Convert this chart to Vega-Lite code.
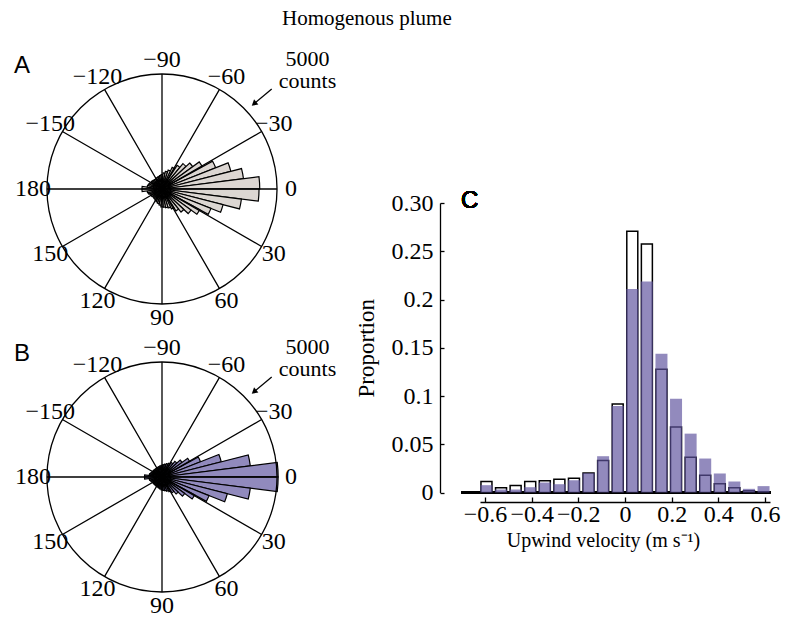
{
  "$schema": "https://vega.github.io/schema/vega-lite/v6.json",
  "padding": {"left": 0, "top": 7, "right": 0, "bottom": 0},
  "title": {"text": "Homogenous plume", "font": "Liberation Serif", "fontSize": 21, "fontWeight": "normal", "color": "black", "anchor": "start", "frame": "group", "dx": 282, "offset": 19},
  "spacing": 18,
  "datasets": {
    "roseA": [
      {"a0":-180,"a1":-172.8,"count":870},{"a0":-172.8,"a1":-165.6,"count":650},{"a0":-165.6,"a1":-158.4,"count":610},{"a0":-158.4,"a1":-151.2,"count":590},{"a0":-151.2,"a1":-144,"count":560},{"a0":-144,"a1":-136.8,"count":540},{"a0":-136.8,"a1":-129.6,"count":520},{"a0":-129.6,"a1":-122.4,"count":520},{"a0":-122.4,"a1":-115.2,"count":520},{"a0":-115.2,"a1":-108,"count":540},{"a0":-108,"a1":-100.8,"count":560},{"a0":-100.8,"a1":-93.6,"count":590},{"a0":-93.6,"a1":-86.4,"count":630},{"a0":-86.4,"a1":-79.2,"count":700},{"a0":-79.2,"a1":-72,"count":780},{"a0":-72,"a1":-64.8,"count":870},{"a0":-64.8,"a1":-57.6,"count":1040},{"a0":-57.6,"a1":-50.4,"count":1220},{"a0":-50.4,"a1":-43.2,"count":1430},{"a0":-43.2,"a1":-36,"count":1650},{"a0":-36,"a1":-28.8,"count":2000},{"a0":-28.8,"a1":-21.6,"count":2510},{"a0":-21.6,"a1":-14.4,"count":3090},{"a0":-14.4,"a1":-7.2,"count":3570},{"a0":-7.2,"a1":0,"count":4250},
      {"a0":0,"a1":7.2,"count":4220},{"a0":7.2,"a1":14.4,"count":3480},{"a0":14.4,"a1":21.6,"count":2740},{"a0":21.6,"a1":28.8,"count":2290},{"a0":28.8,"a1":36,"count":1870},{"a0":36,"a1":43.2,"count":1560},{"a0":43.2,"a1":50.4,"count":1300},{"a0":50.4,"a1":57.6,"count":1130},{"a0":57.6,"a1":64.8,"count":960},{"a0":64.8,"a1":72,"count":870},{"a0":72,"a1":79.2,"count":830},{"a0":79.2,"a1":86.4,"count":790},{"a0":86.4,"a1":93.6,"count":780},{"a0":93.6,"a1":100.8,"count":700},{"a0":100.8,"a1":108,"count":650},{"a0":108,"a1":115.2,"count":610},{"a0":115.2,"a1":122.4,"count":570},{"a0":122.4,"a1":129.6,"count":545},{"a0":129.6,"a1":136.8,"count":520},{"a0":136.8,"a1":144,"count":520},{"a0":144,"a1":151.2,"count":545},{"a0":151.2,"a1":158.4,"count":565},{"a0":158.4,"a1":165.6,"count":610},{"a0":165.6,"a1":172.8,"count":650},{"a0":172.8,"a1":180,"count":870}
    ],
    "roseB": [
      {"a0":-180,"a1":-172.8,"count":760},{"a0":-172.8,"a1":-165.6,"count":560},{"a0":-165.6,"a1":-158.4,"count":520},{"a0":-158.4,"a1":-151.2,"count":490},{"a0":-151.2,"a1":-144,"count":470},{"a0":-144,"a1":-136.8,"count":460},{"a0":-136.8,"a1":-129.6,"count":450},{"a0":-129.6,"a1":-122.4,"count":450},{"a0":-122.4,"a1":-115.2,"count":450},{"a0":-115.2,"a1":-108,"count":460},{"a0":-108,"a1":-100.8,"count":470},{"a0":-100.8,"a1":-93.6,"count":490},{"a0":-93.6,"a1":-86.4,"count":510},{"a0":-86.4,"a1":-79.2,"count":540},{"a0":-79.2,"a1":-72,"count":570},{"a0":-72,"a1":-64.8,"count":610},{"a0":-64.8,"a1":-57.6,"count":660},{"a0":-57.6,"a1":-50.4,"count":750},{"a0":-50.4,"a1":-43.2,"count":880},{"a0":-43.2,"a1":-36,"count":1080},{"a0":-36,"a1":-28.8,"count":1380},{"a0":-28.8,"a1":-21.6,"count":1800},{"a0":-21.6,"a1":-14.4,"count":2660},{"a0":-14.4,"a1":-7.2,"count":3870},{"a0":-7.2,"a1":0,"count":5050},
      {"a0":0,"a1":7.2,"count":5050},{"a0":7.2,"a1":14.4,"count":3870},{"a0":14.4,"a1":21.6,"count":2930},{"a0":21.6,"a1":28.8,"count":2200},{"a0":28.8,"a1":36,"count":1620},{"a0":36,"a1":43.2,"count":1220},{"a0":43.2,"a1":50.4,"count":960},{"a0":50.4,"a1":57.6,"count":810},{"a0":57.6,"a1":64.8,"count":710},{"a0":64.8,"a1":72,"count":650},{"a0":72,"a1":79.2,"count":610},{"a0":79.2,"a1":86.4,"count":580},{"a0":86.4,"a1":93.6,"count":560},{"a0":93.6,"a1":100.8,"count":530},{"a0":100.8,"a1":108,"count":500},{"a0":108,"a1":115.2,"count":480},{"a0":115.2,"a1":122.4,"count":470},{"a0":122.4,"a1":129.6,"count":460},{"a0":129.6,"a1":136.8,"count":460},{"a0":136.8,"a1":144,"count":460},{"a0":144,"a1":151.2,"count":470},{"a0":151.2,"a1":158.4,"count":490},{"a0":158.4,"a1":165.6,"count":520},{"a0":165.6,"a1":172.8,"count":560},{"a0":172.8,"a1":180,"count":760}
    ],
    "spokes": [{"angle":0},{"angle":30},{"angle":60},{"angle":90},{"angle":120},{"angle":150},{"angle":180},{"angle":-150},{"angle":-120},{"angle":-90},{"angle":-60},{"angle":-30}],
    "angleLabels": [
      {"angle":0,"label":"0"},{"angle":30,"label":"30"},{"angle":60,"label":"60"},{"angle":90,"label":"90"},{"angle":120,"label":"120"},{"angle":150,"label":"150"},{"angle":180,"label":"180"},{"angle":-150,"label":"−150"},{"angle":-120,"label":"−120"},{"angle":-90,"label":"−90"},{"angle":-60,"label":"−60"},{"angle":-30,"label":"−30"}
    ],
    "hist": [
      {"velocity":-0.59375,"A":0.0114,"B":0.0076},
      {"velocity":-0.53125,"A":0.0048,"B":0.0031},
      {"velocity":-0.46875,"A":0.0072,"B":0.0031},
      {"velocity":-0.40625,"A":0.0114,"B":0.0055},
      {"velocity":-0.34375,"A":0.0121,"B":0.0103},
      {"velocity":-0.28125,"A":0.0138,"B":0.0086},
      {"velocity":-0.21875,"A":0.0148,"B":0.0128},
      {"velocity":-0.15625,"A":0.0203,"B":0.0200},
      {"velocity":-0.09375,"A":0.0331,"B":0.0376},
      {"velocity":-0.03125,"A":0.0917,"B":0.0897},
      {"velocity":0.03125,"A":0.2707,"B":0.2110},
      {"velocity":0.09375,"A":0.2576,"B":0.2186},
      {"velocity":0.15625,"A":0.1276,"B":0.1438},
      {"velocity":0.21875,"A":0.0679,"B":0.0972},
      {"velocity":0.28125,"A":0.0366,"B":0.0610},
      {"velocity":0.34375,"A":0.0179,"B":0.0352},
      {"velocity":0.40625,"A":0.0090,"B":0.0197},
      {"velocity":0.46875,"A":0.0048,"B":0.0114},
      {"velocity":0.53125,"A":0.0017,"B":0.0038},
      {"velocity":0.59375,"A":0,"B":0.0066}
    ]
  },
  "hconcat": [
    {
      "vconcat": [
        {
          "width": 324, "height": 280,
          "layer": [
            {"data": {"name": "roseA"}, "mark": {"type": "arc", "fill": "#dcd6d2", "stroke": "black", "strokeWidth": 1.2},
             "encoding": {
               "theta": {"field": "a0", "type": "quantitative", "stack": false, "scale": {"domain": [-90, 270], "range": [0, 6.283185307179586], "zero": false, "nice": false}},
               "theta2": {"field": "a1"},
               "radius": {"field": "count", "type": "quantitative", "scale": {"type": "linear", "domain": [0, 5000], "range": [0, 115], "zero": true, "nice": false}}
             }},
            {"data": {"name": "spokes"}, "mark": {"type": "arc", "fill": "black", "stroke": "black", "strokeWidth": 1.3},
             "encoding": {"theta": {"field": "angle", "type": "quantitative", "stack": false}, "theta2": {"field": "angle"}, "radius": {"datum": 5000}}},
            {"data": {"values": [{}]}, "mark": {"type": "arc", "fillOpacity": 0, "stroke": "black", "strokeWidth": 1.3},
             "encoding": {"theta": {"datum": -90}, "theta2": {"datum": 270}, "radius": {"datum": 5000}}},
            {"data": {"name": "angleLabels"}, "mark": {"type": "text", "font": "Liberation Serif", "fontSize": 24, "align": "center", "baseline": "middle", "color": "black"},
             "encoding": {"theta": {"field": "angle", "type": "quantitative", "stack": false}, "radius": {"datum": 5609}, "text": {"field": "label"}}},
            {"data": {"values": [{}]}, "mark": {"type": "text", "font": "Liberation Serif", "fontSize": 22, "align": "center", "baseline": "middle", "lineHeight": 22, "color": "black"},
             "encoding": {"x": {"datum": 6326, "scale": {"domain": [-7043.5, 7043.5]}, "axis": null}, "y": {"datum": 5650, "scale": {"domain": [-6087, 6087]}, "axis": null}, "text": {"value": ["5000", "counts"]}}},
            {"data": {"values": [{}]}, "mark": {"type": "rule", "color": "black", "strokeWidth": 1.3},
             "encoding": {"x": {"datum": 4770, "scale": {"domain": [-7043.5, 7043.5]}, "axis": null}, "y": {"datum": 4348, "scale": {"domain": [-6087, 6087]}, "axis": null}, "x2": {"datum": 4000}, "y2": {"datum": 3704}}},
            {"data": {"values": [{}]}, "mark": {"type": "point", "shape": "triangle-right", "filled": true, "color": "black", "opacity": 1, "size": 45, "angle": 140},
             "encoding": {"x": {"datum": 4000, "scale": {"domain": [-7043.5, 7043.5]}, "axis": null}, "y": {"datum": 3704, "scale": {"domain": [-6087, 6087]}, "axis": null}}},
            {"data": {"values": [{}]}, "mark": {"type": "text", "font": "Liberation Sans", "fontSize": 24, "align": "center", "baseline": "middle", "color": "black"},
             "encoding": {"x": {"datum": -6087, "scale": {"domain": [-7043.5, 7043.5]}, "axis": null}, "y": {"datum": 5348, "scale": {"domain": [-6087, 6087]}, "axis": null}, "text": {"value": "A"}}}
          ]
        },
        {
          "width": 324, "height": 276,
          "layer": [
            {"data": {"name": "roseB"}, "mark": {"type": "arc", "fill": "#918abd", "stroke": "black", "strokeWidth": 1.2},
             "encoding": {
               "theta": {"field": "a0", "type": "quantitative", "stack": false, "scale": {"domain": [-90, 270], "range": [0, 6.283185307179586], "zero": false, "nice": false}},
               "theta2": {"field": "a1"},
               "radius": {"field": "count", "type": "quantitative", "scale": {"type": "linear", "domain": [0, 5000], "range": [0, 115], "zero": true, "nice": false}}
             }},
            {"data": {"name": "spokes"}, "mark": {"type": "arc", "fill": "black", "stroke": "black", "strokeWidth": 1.3},
             "encoding": {"theta": {"field": "angle", "type": "quantitative", "stack": false}, "theta2": {"field": "angle"}, "radius": {"datum": 5000}}},
            {"data": {"values": [{}]}, "mark": {"type": "arc", "fillOpacity": 0, "stroke": "black", "strokeWidth": 1.3},
             "encoding": {"theta": {"datum": -90}, "theta2": {"datum": 270}, "radius": {"datum": 5000}}},
            {"data": {"name": "angleLabels"}, "mark": {"type": "text", "font": "Liberation Serif", "fontSize": 24, "align": "center", "baseline": "middle", "color": "black"},
             "encoding": {"theta": {"field": "angle", "type": "quantitative", "stack": false}, "radius": {"datum": 5609}, "text": {"field": "label"}}},
            {"data": {"values": [{}]}, "mark": {"type": "text", "font": "Liberation Serif", "fontSize": 22, "align": "center", "baseline": "middle", "lineHeight": 22, "color": "black"},
             "encoding": {"x": {"datum": 6326, "scale": {"domain": [-7043.5, 7043.5]}, "axis": null}, "y": {"datum": 5650, "scale": {"domain": [-6000, 6000]}, "axis": null}, "text": {"value": ["5000", "counts"]}}},
            {"data": {"values": [{}]}, "mark": {"type": "rule", "color": "black", "strokeWidth": 1.3},
             "encoding": {"x": {"datum": 4770, "scale": {"domain": [-7043.5, 7043.5]}, "axis": null}, "y": {"datum": 4348, "scale": {"domain": [-6000, 6000]}, "axis": null}, "x2": {"datum": 4000}, "y2": {"datum": 3704}}},
            {"data": {"values": [{}]}, "mark": {"type": "point", "shape": "triangle-right", "filled": true, "color": "black", "opacity": 1, "size": 45, "angle": 140},
             "encoding": {"x": {"datum": 4000, "scale": {"domain": [-7043.5, 7043.5]}, "axis": null}, "y": {"datum": 3704, "scale": {"domain": [-6000, 6000]}, "axis": null}}},
            {"data": {"values": [{}]}, "mark": {"type": "text", "font": "Liberation Sans", "fontSize": 24, "align": "center", "baseline": "middle", "color": "black"},
             "encoding": {"x": {"datum": -6087, "scale": {"domain": [-7043.5, 7043.5]}, "axis": null}, "y": {"datum": 5348, "scale": {"domain": [-6000, 6000]}, "axis": null}, "text": {"value": "B"}}}
          ]
        }
      ],
      "spacing": 10,
      "bounds": "flush"
    },
    {
      "width": 345, "height": 443.5,
      "data": {"name": "hist"},
      "layer": [
        {"mark": {"type": "rule", "color": "black", "strokeWidth": 2},
         "encoding": {
           "x": {"datum": -0.7, "type": "quantitative", "scale": {"domain": [-0.6, 0.6], "range": [40, 330], "nice": false, "zero": false},
                 "axis": {"values": [-0.6, -0.4, -0.2, 0, 0.2, 0.4, 0.6], "format": "~g", "offset": 9.5, "tickSize": -5, "labelPadding": 5, "labelOverlap": false, "labelFlush": false, "title": "Upwind velocity (m s⁻¹)", "titleFontSize": 20, "titleX": 163, "titlePadding": 4}},
           "x2": {"datum": 0.625},
           "y": {"datum": 0, "type": "quantitative", "scale": {"domain": [0, 0.3], "range": [443.5, 154], "nice": false, "zero": true},
                 "axis": {"values": [0, 0.05, 0.1, 0.15, 0.2, 0.25, 0.3], "labelExpr": "datum.value == 0.3 ? '0.30' : '' + datum.value", "tickSize": -4, "labelPadding": 11, "labelOverlap": false, "labelFlush": false, "title": "Proportion", "titleFontSize": 23, "titlePadding": 13}}
         }},
        {"mark": {"type": "bar", "fill": "white", "stroke": "black", "strokeWidth": 1.5, "width": 11},
         "encoding": {"x": {"field": "velocity", "type": "quantitative"}, "y": {"field": "A", "type": "quantitative"}}},
        {"mark": {"type": "bar", "fill": "#5f539d", "fillOpacity": 0.68, "width": 12},
         "encoding": {"x": {"field": "velocity", "type": "quantitative"}, "y": {"field": "B", "type": "quantitative"}}},
        {"mark": {"type": "text", "font": "Liberation Sans", "fontSize": 24, "align": "center", "baseline": "middle", "color": "black"},
         "encoding": {"x": {"datum": -0.666, "type": "quantitative"}, "y": {"datum": 0.302, "type": "quantitative"}, "text": {"value": "C"}}}
      ]
    }
  ],
  "config": {
    "view": {"stroke": null},
    "axis": {"grid": false, "labelFont": "Liberation Serif", "labelFontSize": 24, "labelColor": "black", "titleFont": "Liberation Serif", "titleFontSize": 22, "titleFontWeight": "normal", "titleColor": "black", "domainColor": "black", "tickColor": "black", "domainWidth": 1.3, "tickWidth": 1.3}
  }
}
